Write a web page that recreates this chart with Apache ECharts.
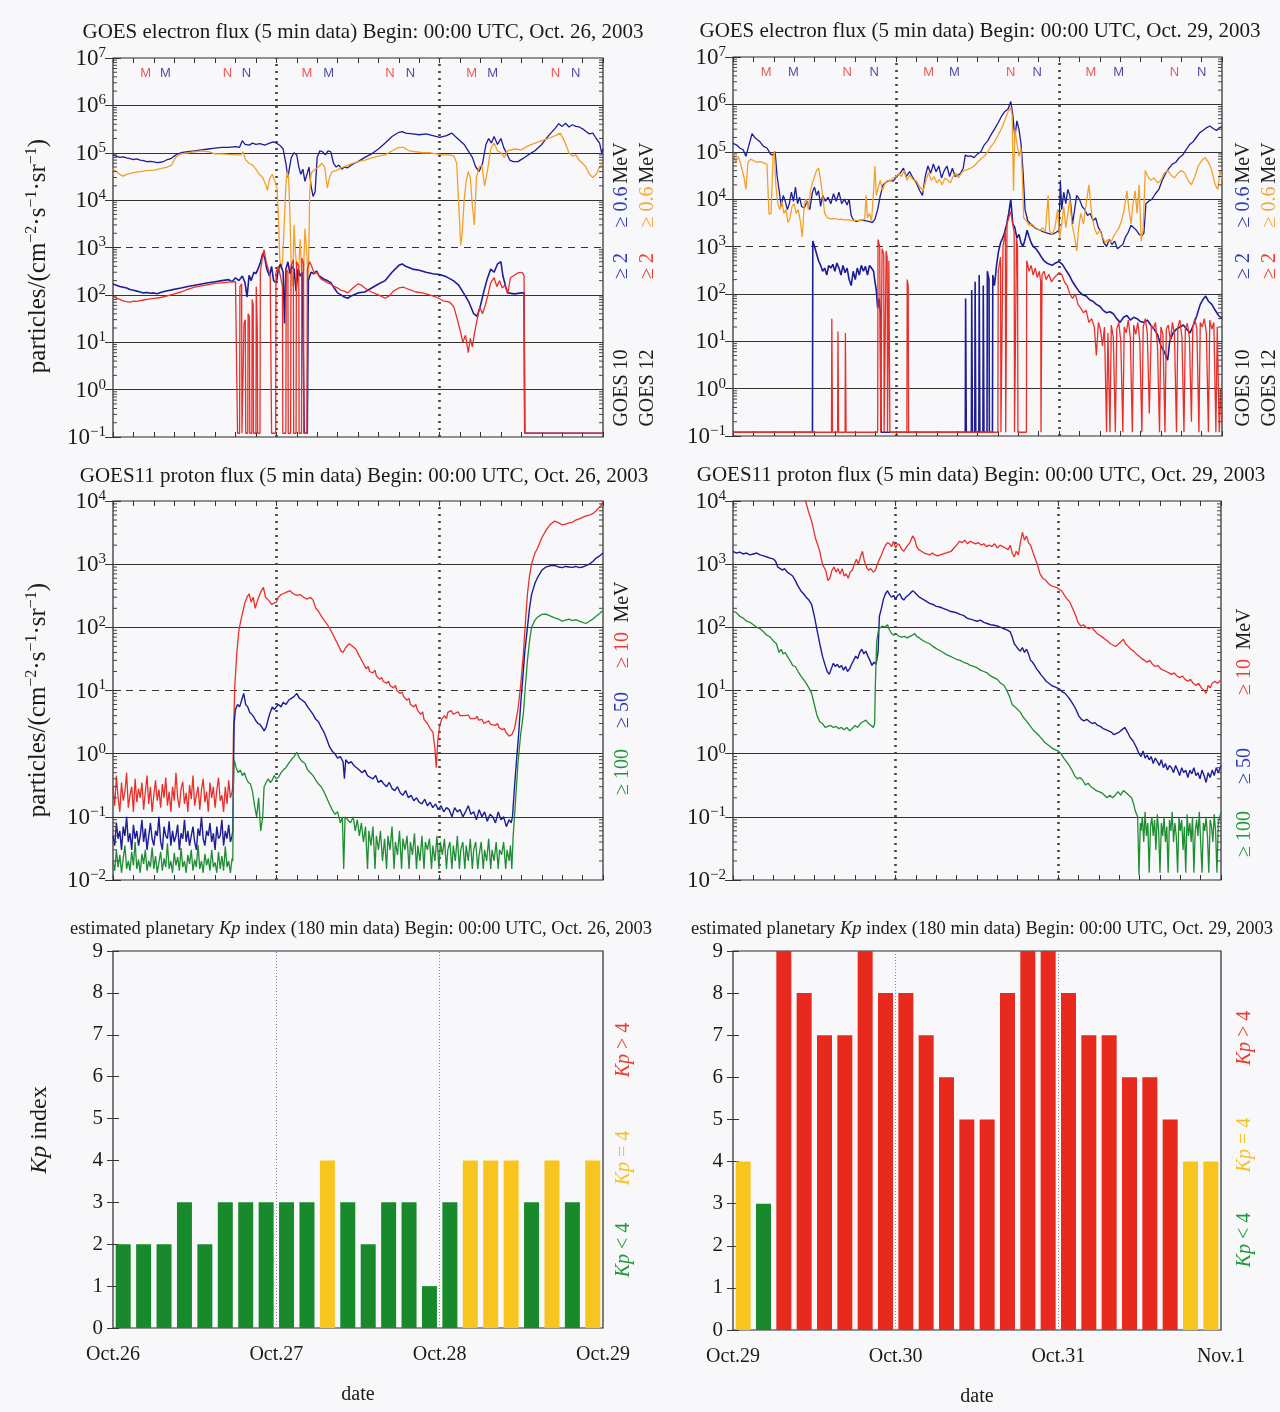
<!DOCTYPE html>
<html><head><meta charset="utf-8">
<script src="https://cdn.jsdelivr.net/npm/echarts@6/dist/echarts.min.js"></script>
<style>html,body{margin:0;padding:0;background:#f8f8fb}#c{width:1280px;height:1412px}</style>
</head><body><div id="c"></div>
<script>
// ---------------- DATA ----------------
// time in hours from 00:00 UTC of the first day of each panel
const FLOOR = 0.12;
// Electron flux, Oct 26 - 28
const e1_g10_06 = [[0,9e4],[0.5,8.5e4],[1,8e4],[1.5,8.2e4],[2,7.8e4],[2.5,7.5e4],[3,7.2e4],[3.5,7.4e4],[4,7e4],[4.5,6.8e4],[5,6.5e4],[5.5,6.6e4],[6,6.4e4],[6.5,6.2e4],[7,6.3e4],[7.5,6.6e4],[8,7.2e4],[8.5,7.5e4],[9,8.5e4],[9.5,9.5e4],[10,1.0e5],[11,1.05e5],[12,1.1e5],[13,1.15e5],[14,1.2e5],[15,1.25e5],[16,1.3e5],[17,1.3e5],[18,1.35e5],[18.6,1.3e5],[19,1.8e5],[19.4,1.5e5],[20,1.45e5],[20.5,1.6e5],[21,1.5e5],[21.6,1.55e5],[22.3,1.45e5],[23,1.6e5],[23.6,1.7e5],[24,1.6e5],[24.6,1.4e5],[25,1.2e5],[25.4,6e4],[25.7,3e4],[25.9,4.5e4],[26.2,8e4],[26.6,1.0e5],[27,9e4],[27.3,5e4],[27.6,3.5e4],[27.9,4.5e4],[28.2,2.5e4],[28.5,3.5e4],[28.8,5e4],[29.1,2e4],[29.4,1.2e4],[29.7,1.5e4],[30,8e4],[30.4,1.1e5],[30.8,1.05e5],[31.2,9e4],[31.6,1.1e5],[32,1.05e5],[32.4,6e4],[32.8,5e4],[33.2,5.5e4],[33.6,4.5e4],[34,5e4],[34.5,4.8e4],[35,5.5e4],[35.5,6e4],[36,6.5e4],[37,8e4],[38,9.5e4],[39,1.2e5],[40,1.6e5],[41,2.2e5],[42,2.7e5],[42.5,2.8e5],[43,2.6e5],[44,2.5e5],[45,2.4e5],[46,2.5e5],[47,2.3e5],[48,2.1e5],[49,2.3e5],[49.8,2.6e5],[50.3,2.2e5],[51,1.8e5],[51.6,1.5e5],[52.2,1.1e5],[52.8,8e4],[53.3,5e4],[53.8,4e4],[54.3,6e4],[54.8,1.5e5],[55.2,2.0e5],[55.6,1.6e5],[56,2.2e5],[56.5,1.5e5],[57,2.0e5],[57.4,1.3e5],[57.8,1.0e5],[58.3,7e4],[58.8,6.5e4],[59.5,6.5e4],[60.2,7.5e4],[61,9e4],[62,1.1e5],[63,1.5e5],[64,2.3e5],[65,3.3e5],[65.5,4.1e5],[66,3.6e5],[66.5,4.2e5],[67,3.5e5],[67.5,3.9e5],[68,3.6e5],[68.5,3.5e5],[69,3.2e5],[69.5,2.8e5],[70,2.5e5],[70.5,2.6e5],[71,2.0e5],[71.5,1.6e5],[71.8,1.0e5],[72,1.2e5]];
const e1_g12_06 = [[0,4.6e4],[0.5,4e4],[1,3.5e4],[1.5,3.2e4],[2,3.5e4],[3,3.8e4],[4,4e4],[5,4.2e4],[6,4.3e4],[7,4.6e4],[8,5e4],[8.6,5.5e4],[9.2,8e4],[10,9.5e4],[11,1.0e5],[12,1.05e5],[13,1.1e5],[14,1.05e5],[15,9.5e4],[16,9.5e4],[17,9.2e4],[18,9e4],[18.8,9e4],[19.1,1.05e5],[19.5,7e4],[20,6e4],[20.5,5.5e4],[21,4.5e4],[21.5,3.5e4],[22,3e4],[22.4,2.2e4],[22.7,1.6e4],[23,2.8e4],[23.4,3.5e4],[23.8,2.5e4],[24.1,1.8e4],[24.3,5e3],[24.5,600],[24.7,350],[24.9,500],[25.1,2e3],[25.4,2e4],[25.6,4e4],[25.8,3e4],[26,5e3],[26.2,300],[26.4,150],[26.6,3e3],[26.8,800],[27,400],[27.2,200],[27.5,1.5e3],[27.8,150],[28,300],[28.2,2.5e3],[28.5,700],[28.7,150],[28.9,1.5e4],[29.1,3.5e4],[29.3,4e4],[29.7,4.5e4],[30.2,5e4],[30.7,6e4],[31.1,5e4],[31.5,1.8e4],[31.8,3e4],[32.2,4e4],[32.8,4.2e4],[33.5,4.8e4],[34.2,5.2e4],[35,5.8e4],[36,6.5e4],[37,7e4],[38,7.8e4],[39,8.5e4],[40,9e4],[41,1.1e5],[42,1.3e5],[42.7,1.3e5],[43.5,1.1e5],[44.5,1.05e5],[45.5,1.0e5],[46.5,1.0e5],[47.5,9.5e4],[48.5,9e4],[49.5,9e4],[50.1,8.5e4],[50.5,6e4],[50.8,8e3],[51.1,1.1e3],[51.3,2e3],[51.6,1e4],[51.9,2.5e4],[52.2,4e4],[52.5,3e4],[52.8,8e3],[53.1,3e3],[53.4,3e4],[53.8,5e4],[54.2,5.5e4],[54.6,2e4],[55,4e4],[55.5,1.2e5],[56,1.6e5],[56.5,1.1e5],[57,1.0e5],[57.5,8e4],[58,1.1e5],[59,1.2e5],[60,1.15e5],[61,1.4e5],[62,1.6e5],[63,1.8e5],[64,2.0e5],[65,2.3e5],[65.7,2.6e5],[66.3,1.8e5],[67,1.0e5],[67.5,8.5e4],[68,9e4],[68.5,7e4],[69,6e4],[69.5,5e4],[70,3.5e4],[70.5,3e4],[71,3.5e4],[71.5,5e4],[72,6e4]];
const e1_g10_2 = [[0,170],[0.5,160],[1,150],[1.5,145],[2,140],[2.5,130],[3,125],[3.5,120],[4,115],[4.5,110],[5,112],[5.5,108],[6,110],[6.5,106],[7,112],[7.5,118],[8,122],[8.5,126],[9,132],[10,140],[11,150],[12,160],[13,170],[14,180],[15,190],[16,200],[17,210],[17.5,190],[18,230],[18.5,200],[19,250],[19.4,180],[19.7,90],[20,260],[20.3,200],[20.7,300],[21,280],[21.3,350],[21.7,500],[22,750],[22.3,600],[22.6,350],[23,250],[23.3,400],[23.6,200],[24,180],[24.3,350],[24.6,450],[25,300],[25.2,25],[25.4,350],[25.7,500],[26,280],[26.3,400],[26.6,350],[26.9,120],[27.2,350],[27.5,250],[27.8,300],[28.1,FLOOR],[28.55,FLOOR],[28.7,200],[29.1,300],[29.5,280],[29.9,320],[30.3,250],[30.7,230],[31.1,210],[31.5,200],[32,180],[32.5,140],[33,110],[33.5,100],[34,90],[34.5,85],[35,95],[36,110],[37,115],[38,140],[39,170],[40,200],[41,300],[42,420],[42.5,450],[43,400],[44,350],[45,330],[46,300],[47,280],[48,270],[49,240],[50,200],[50.8,160],[51.5,110],[52.3,70],[53,40],[53.5,35],[54,60],[54.5,120],[55,220],[55.5,350],[56,300],[56.5,450],[57,500],[57.3,250],[57.7,150],[58,110],[59,105],[60,110],[60.4,110],[60.5,FLOOR],[72,FLOOR]];
const e1_g12_2 = [[0,95],[0.5,85],[1,80],[1.5,75],[2,72],[2.5,70],[3,74],[3.5,73],[4,76],[4.5,78],[5,80],[5.5,82],[6,84],[7,88],[8,95],[9,105],[10,115],[11,130],[12,145],[13,155],[14,165],[15,175],[16,180],[17,185],[18,190],[18.25,180],[18.3,FLOOR],[18.6,FLOOR],[18.65,150],[18.9,170],[18.95,FLOOR],[19.2,FLOOR],[19.25,25],[19.45,30],[19.5,FLOOR],[19.8,FLOOR],[19.85,40],[20.05,35],[20.1,FLOOR],[20.4,FLOOR],[20.45,80],[20.6,60],[20.65,FLOOR],[21,FLOOR],[21.05,150],[21.2,20],[21.25,FLOOR],[21.6,FLOOR],[21.65,300],[22,700],[22.2,900],[22.5,500],[22.8,350],[23.1,250],[23.3,FLOOR],[23.9,FLOOR],[23.95,300],[24.3,400],[24.6,250],[24.9,150],[24.95,FLOOR],[25.4,FLOOR],[25.45,350],[25.7,300],[25.75,FLOOR],[26.1,FLOOR],[26.15,400],[26.5,550],[26.55,FLOOR],[26.9,FLOOR],[26.95,500],[27.3,400],[27.35,FLOOR],[27.7,FLOOR],[27.75,600],[28,450],[28.05,FLOOR],[28.5,FLOOR],[28.55,350],[28.9,500],[29.2,400],[29.6,280],[30,300],[30.5,220],[31,200],[31.5,180],[32,170],[32.5,150],[33,140],[33.5,125],[34,120],[34.5,110],[35,130],[35.5,150],[36,170],[36.5,160],[37,140],[37.5,125],[38,115],[39,100],[40,85],[40.6,95],[41.2,120],[42,140],[42.7,145],[43.5,130],[44.5,115],[45.5,110],[46.5,100],[47.5,90],[48.5,75],[49.5,70],[50.1,55],[50.6,30],[51,18],[51.4,10],[51.8,14],[52.2,6],[52.5,12],[52.8,8],[53.1,15],[53.5,30],[53.9,55],[54.3,40],[54.7,60],[55.1,100],[55.5,180],[56,230],[56.4,150],[56.8,200],[57.2,140],[57.6,160],[58,105],[58.4,230],[58.8,250],[59.3,280],[59.8,300],[60.2,290],[60.4,250],[60.5,FLOOR],[72,FLOOR]];
// Electron flux, Oct 29 - 31
const e2_g10_06 = [[0,1.5e5],[0.5,1.4e5],[1,1.2e5],[1.5,1.1e5],[1.9,8e4],[2.3,1.3e5],[2.8,2.4e5],[3.2,2e5],[3.6,1.8e5],[4,1.6e5],[4.5,1.3e5],[5,1.2e5],[5.5,9e4],[5.8,8.5e4],[6.2,1.0e5],[6.5,3e4],[6.8,1.5e4],[7.1,7e3],[7.4,1.2e4],[7.7,9e3],[8,6e3],[8.3,8e3],[8.6,1.4e4],[8.9,9e3],[9.2,1.8e4],[9.5,8e3],[9.8,1.1e4],[10.1,7e3],[10.5,6.5e3],[10.9,9e3],[11.3,6e3],[11.7,1.4e4],[12,1.8e4],[12.3,1.2e4],[12.6,1.5e4],[12.9,7e3],[13.2,1.2e4],[13.6,9e3],[14,1.1e4],[14.4,8e3],[14.8,1.3e4],[15.2,9e3],[15.6,1.4e4],[16,8e3],[16.4,1.0e4],[16.8,7.5e3],[17.1,1.0e4],[17.4,4.5e3],[17.8,3.5e3],[18.2,3.4e3],[18.8,3.6e3],[19.4,3.5e3],[20,3.4e3],[20.5,3.2e3],[20.9,3.8e3],[21.3,6e3],[21.7,1.2e4],[22.1,2e4],[22.6,2.3e4],[23.1,2.5e4],[23.6,2.4e4],[24.1,3e4],[24.6,3.5e4],[25.1,4.5e4],[25.5,3e4],[26,3.8e4],[26.5,2.8e4],[27,2.2e4],[27.5,1.5e4],[27.9,1.2e4],[28.3,3e4],[28.7,5e4],[29.1,3.5e4],[29.5,5.5e4],[29.9,3.8e4],[30.3,5e4],[30.7,2.8e4],[31.1,4e4],[31.5,5e4],[31.9,3e4],[32.3,4.5e4],[32.7,3e4],[33.1,3.2e4],[33.5,3.5e4],[33.9,4.5e4],[34.2,8.5e4],[34.6,8e4],[35,8.2e4],[35.5,7.5e4],[36,9e4],[36.5,1.0e5],[37,1.4e5],[37.5,1.7e5],[38,2.3e5],[38.5,3e5],[39,4e5],[39.5,5.5e5],[40,7e5],[40.5,8e5],[40.9,1.15e6],[41.2,6e5],[41.5,2e5],[41.8,4.5e5],[42.1,3e5],[42.4,1.5e5],[42.7,4e4],[43,6e3],[43.4,3.5e3],[44,2.8e3],[44.6,2.4e3],[45.2,2.2e3],[45.8,2.0e3],[46.4,1.9e3],[47,1.8e3],[47.6,2.0e3],[48,2.2e3],[48.2,2.5e4],[48.4,6e3],[48.7,1.4e4],[49,8e3],[49.3,1.6e4],[49.6,1.2e4],[50,3e3],[50.3,6e3],[50.6,1.2e4],[51,1.0e4],[51.4,7e3],[51.8,6e3],[52.2,4.5e3],[52.6,5e3],[53,3.5e3],[53.4,4e3],[53.8,2.5e3],[54.2,2e3],[54.6,1.2e3],[55,1.0e3],[55.4,1.4e3],[55.8,1.1e3],[56.2,1.3e3],[56.6,9e2],[57,1.0e3],[57.4,1.1e3],[57.8,1.6e3],[58.2,2e3],[58.6,2.8e3],[59,2.5e3],[59.4,2.2e3],[59.8,1.8e3],[60.2,1.7e3],[60.5,1.9e3],[60.8,8e3],[61.2,9e3],[61.7,1.0e4],[62.2,1.3e4],[62.7,1.6e4],[63.2,2.5e4],[63.7,3.5e4],[64.2,4.5e4],[64.7,5.5e4],[65.2,6e4],[65.7,7.5e4],[66.2,8.5e4],[66.7,1.1e5],[67.2,1.4e5],[67.7,1.6e5],[68.2,2.0e5],[68.7,2.5e5],[69.2,2.8e5],[69.7,3.2e5],[70.2,3.5e5],[70.7,3.1e5],[71.2,2.8e5],[71.6,3.2e5],[72,3.4e5]];
const e2_g12_06 = [[0,9.5e4],[0.4,6e4],[0.8,8e4],[1.2,5e4],[1.6,3e4],[1.9,1.6e4],[2.2,6e4],[2.6,7e4],[3,6.5e4],[3.5,6e4],[4,6.2e4],[4.5,5.8e4],[5,5.5e4],[5.3,4.8e3],[5.6,5e3],[5.9,8e4],[6.1,1e5],[6.3,2e4],[6.6,8e3],[6.9,6e3],[7.2,9e3],[7.5,5e3],[7.8,6e3],[8.1,3.2e3],[8.4,4e3],[8.7,7e3],[9,8e3],[9.3,5e3],[9.6,6e3],[9.9,3.5e3],[10.2,1.6e3],[10.5,8e3],[10.8,1.0e4],[11.1,6e3],[11.4,1.5e4],[11.7,2.2e4],[12,3e4],[12.3,4e4],[12.6,4.5e4],[12.9,2.5e4],[13.2,1.2e4],[13.5,5e3],[13.9,4e3],[14.5,3.8e3],[15,3.9e3],[15.5,3.7e3],[16,3.8e3],[16.5,3.6e3],[17,3.7e3],[17.5,3.5e3],[18,3.6e3],[18.5,3.5e3],[19,3.6e3],[19.4,3.8e3],[19.6,1.2e4],[19.8,4e3],[20.1,5e3],[20.4,3.5e3],[20.7,1.5e4],[20.9,5e4],[21.1,1.2e4],[21.4,1.8e4],[21.7,2.5e4],[22,1.5e4],[22.4,2.2e4],[22.8,2.5e4],[23.2,2.4e4],[23.6,2.8e4],[24,3e4],[24.4,3.5e4],[24.8,3e4],[25.2,4e4],[25.6,2.5e4],[26,3.2e4],[26.5,2.6e4],[27,2.4e4],[27.5,1.8e4],[28,1.5e4],[28.4,2.5e4],[28.8,3.6e4],[29.2,2.5e4],[29.6,3e4],[30,2.2e4],[30.4,2.6e4],[30.8,2.0e4],[31.2,2.8e4],[31.6,2.5e4],[32,2.2e4],[32.4,3e4],[32.8,3.5e4],[33.2,2.8e4],[33.6,3.5e4],[34,4e4],[34.5,4.2e4],[35,4.5e4],[35.5,5e4],[36,6e4],[36.5,7e4],[37,8e4],[37.5,1.0e5],[38,1.3e5],[38.5,1.6e5],[39,2.2e5],[39.5,3e5],[40,4.5e5],[40.5,7e5],[40.9,8.5e5],[41.1,6e5],[41.3,1.5e4],[41.5,3e5],[41.8,1.5e5],[42.1,8e4],[42.4,1.2e5],[42.6,3e4],[42.8,4e3],[43.2,3.5e3],[43.6,2.8e3],[44,3e3],[44.4,2.6e3],[44.8,2.4e3],[45.2,2.2e3],[45.6,2.5e3],[46,2.0e3],[46.4,1.2e4],[46.6,2.2e3],[47,1.8e3],[47.4,2.5e3],[47.8,6e3],[48.1,1.5e3],[48.4,3e3],[48.7,7e3],[49,2.5e3],[49.3,5e3],[49.6,1.0e4],[49.9,3e3],[50.3,1.6e3],[50.6,8e2],[50.9,2.5e3],[51.2,5e3],[51.6,3e3],[52,8e3],[52.4,2e4],[52.8,5e3],[53.2,2.5e3],[53.6,1.8e3],[54,2.2e3],[54.4,1.6e3],[54.8,1.2e3],[55.2,1.4e3],[55.6,1.2e3],[56,1.6e3],[56.4,2.0e3],[56.8,2.4e3],[57.2,3.5e3],[57.6,6e3],[58,1.5e4],[58.3,6e3],[58.6,3e3],[58.9,8e3],[59.2,1.5e4],[59.5,5e3],[59.8,2e4],[60.1,1.3e3],[60.4,2.5e3],[60.7,4e4],[61.1,3e4],[61.5,2.5e4],[62,2.8e4],[62.5,2.2e4],[63,2.5e4],[63.5,3.5e4],[64,4e4],[64.5,3.2e4],[65,2.8e4],[65.5,3.5e4],[66,4e4],[66.5,3.6e4],[67,2.5e4],[67.5,2.0e4],[68,3e4],[68.5,5e4],[69,6.5e4],[69.5,7.5e4],[70,6e4],[70.5,4e4],[71,2e4],[71.4,1.6e4],[71.7,4e4],[72,2.8e4]];
const e2_g10_2 = [[0,FLOOR],[11.7,FLOOR],[11.75,1300],[12,1000],[12.3,700],[12.6,500],[12.9,400],[13.2,300],[13.5,350],[13.8,250],[14.1,400],[14.4,350],[14.7,420],[15,300],[15.3,450],[15.6,350],[15.9,250],[16.2,400],[16.5,280],[16.8,350],[17.1,200],[17.4,150],[17.7,300],[18,200],[18.3,350],[18.6,250],[18.9,400],[19.2,300],[19.5,380],[19.8,250],[20.1,400],[20.4,350],[20.7,300],[20.9,180],[21.1,120],[21.3,50],[21.5,80],[21.7,40],[21.8,FLOOR],[34.2,FLOOR],[34.25,80],[34.35,FLOOR],[35.1,FLOOR],[35.15,120],[35.25,FLOOR],[35.6,FLOOR],[35.65,180],[35.75,FLOOR],[36.2,FLOOR],[36.25,250],[36.35,FLOOR],[36.8,FLOOR],[36.85,150],[36.95,FLOOR],[37.4,FLOOR],[37.45,300],[37.7,200],[37.75,FLOOR],[38.2,FLOOR],[38.25,250],[38.5,150],[38.8,400],[39.1,800],[39.4,1200],[39.7,1500],[40,2000],[40.3,3000],[40.6,5000],[40.9,1.0e4],[41.2,3000],[41.5,2500],[41.8,1500],[42.1,1800],[42.4,1200],[42.7,1000],[43,1400],[43.3,2200],[43.6,1600],[43.9,1200],[44.2,1000],[44.6,900],[45,750],[45.4,600],[45.8,500],[46.2,450],[46.6,420],[47,400],[47.5,450],[48,480],[48.5,420],[49,320],[49.5,250],[50,180],[50.5,140],[51,110],[51.5,95],[52,90],[52.5,75],[53,70],[53.5,60],[54,55],[54.5,45],[55,40],[55.5,42],[56,38],[56.5,30],[57,25],[57.5,32],[58,35],[58.5,28],[59,32],[59.5,30],[60,26],[60.5,25],[61,28],[61.5,22],[62,18],[62.5,14],[63,8],[63.5,6],[64,4],[64.3,10],[64.8,15],[65.3,18],[65.8,20],[66.3,22],[66.8,18],[67.3,15],[67.8,22],[68.3,35],[68.8,60],[69.3,80],[69.6,90],[70,70],[70.5,60],[71,45],[71.5,35],[72,30]];
const e2_g12_2 = [[0,FLOOR],[14.5,FLOOR],[14.55,30],[14.65,FLOOR],[15.4,FLOOR],[15.45,16],[15.55,FLOOR],[16.5,FLOOR],[16.55,15],[16.65,FLOOR],[21.3,FLOOR],[21.35,1400],[21.6,1000],[21.75,FLOOR],[21.9,FLOOR],[21.95,900],[22.2,700],[22.25,FLOOR],[22.5,FLOOR],[22.55,800],[22.7,600],[22.75,FLOOR],[22.9,FLOOR],[22.95,500],[23.1,FLOOR],[25.6,FLOOR],[25.65,200],[25.8,150],[25.85,FLOOR],[39,FLOOR],[39.05,300],[39.4,600],[39.45,FLOOR],[39.7,FLOOR],[39.75,1000],[40.1,2000],[40.15,FLOOR],[40.3,FLOOR],[40.35,3000],[40.7,4500],[40.9,5500],[41.1,3500],[41.4,2000],[41.45,FLOOR],[41.7,FLOOR],[41.75,1500],[41.9,1000],[41.95,FLOOR],[43.2,FLOOR],[43.25,500],[43.6,300],[43.9,400],[44.2,250],[44.5,350],[44.8,220],[45.1,300],[45.3,180],[45.35,FLOOR],[45.45,FLOOR],[45.5,250],[45.8,300],[46.1,200],[46.5,260],[46.9,180],[47.3,220],[47.7,250],[48,280],[48.4,260],[48.8,180],[49.2,150],[49.6,100],[50,80],[50.4,100],[50.8,60],[51.2,50],[51.6,40],[52,45],[52.4,25],[52.8,30],[53.2,20],[53.5,5],[53.8,25],[54.1,18],[54.4,8],[54.7,20],[55,FLOOR],[55.2,15],[55.5,FLOOR],[55.7,22],[56,12],[56.3,FLOOR],[56.5,18],[56.8,25],[57.1,10],[57.4,FLOOR],[57.6,20],[57.9,15],[58.2,28],[58.5,12],[58.8,FLOOR],[59,22],[59.3,14],[59.6,25],[59.9,10],[60.2,FLOOR],[60.4,20],[60.7,30],[61,15],[61.3,0.3],[61.6,22],[61.9,18],[62.2,25],[62.5,8],[62.8,FLOOR],[63,20],[63.3,14],[63.6,FLOOR],[63.8,18],[64.1,22],[64.4,10],[64.7,25],[65,14],[65.3,FLOOR],[65.5,20],[65.8,28],[66.1,12],[66.4,FLOOR],[66.6,18],[66.9,24],[67.2,12],[67.5,0.2],[67.7,20],[68,30],[68.3,18],[68.6,FLOOR],[68.8,25],[69.1,20],[69.4,30],[69.7,15],[70,FLOOR],[70.2,28],[70.5,18],[70.8,25],[71.1,FLOOR],[71.3,20],[71.6,FLOOR],[71.8,1],[72,0.2]];
// M / N markers (hours)
const e1_markM_red = [4.8,28.5,52.7], e1_markM_blue = [7.7,31.7,55.8];
const e1_markN_red = [16.8,40.7,65.0], e1_markN_blue = [19.6,43.7,68.0];
const e2_markM_red = [4.9,28.8,52.7], e2_markM_blue = [8.9,32.6,56.8];
const e2_markN_red = [16.8,40.9,65.0], e2_markN_blue = [20.8,44.8,69.0];

// Proton flux, Oct 26 - 28 : quiet interval sampled every 0.25 h from 0 h
const p1_10_quiet = [0.3,0.15,0.45,0.2,0.12,0.35,0.18,0.25,0.5,0.14,0.22,0.3,0.12,0.4,0.17,0.28,0.2,0.35,0.13,0.25,0.45,0.16,0.3,0.12,0.22,0.38,0.18,0.27,0.14,0.33,0.2,0.42,0.15,0.25,0.12,0.3,0.18,0.5,0.2,0.14,0.28,0.36,0.16,0.24,0.12,0.32,0.19,0.45,0.15,0.22,0.3,0.13,0.27,0.4,0.17,0.25,0.12,0.35,0.2,0.3,0.14,0.26,0.42,0.18,0.22,0.12,0.3,0.16,0.38,0.2,0.25];
const p1_50_quiet = [0.05,0.035,0.08,0.045,0.06,0.03,0.07,0.05,0.1,0.04,0.055,0.03,0.075,0.045,0.06,0.035,0.05,0.09,0.04,0.065,0.03,0.05,0.08,0.045,0.035,0.06,0.05,0.1,0.04,0.03,0.07,0.05,0.045,0.085,0.035,0.06,0.04,0.05,0.075,0.03,0.055,0.045,0.09,0.04,0.06,0.035,0.05,0.07,0.04,0.03,0.065,0.05,0.1,0.045,0.035,0.06,0.05,0.08,0.04,0.055,0.03,0.07,0.045,0.05,0.09,0.035,0.06,0.045,0.075,0.04,0.05];
const p1_100_quiet = [0.02,0.014,0.03,0.016,0.025,0.013,0.022,0.035,0.015,0.02,0.014,0.028,0.017,0.04,0.015,0.021,0.013,0.026,0.018,0.03,0.014,0.02,0.016,0.033,0.015,0.024,0.013,0.019,0.028,0.014,0.022,0.016,0.038,0.015,0.02,0.013,0.027,0.017,0.023,0.014,0.032,0.016,0.02,0.013,0.025,0.018,0.03,0.014,0.021,0.016,0.036,0.015,0.02,0.013,0.026,0.017,0.022,0.014,0.03,0.016,0.019,0.013,0.028,0.015,0.024,0.014,0.034,0.016,0.02,0.013,0.022];
const p1_10_event = [[17.6,0.3],[17.7,2],[17.9,12],[18.2,40],[18.5,90],[18.8,130],[19.1,180],[19.4,250],[19.7,300],[20,340],[20.3,250],[20.6,300],[20.9,200],[21.2,260],[21.5,320],[21.8,380],[22.1,430],[22.4,300],[22.7,280],[23,260],[23.3,230],[23.6,240],[24,250],[24.3,300],[24.7,330],[25,340],[25.5,360],[26,380],[26.5,340],[27,320],[27.5,330],[28,300],[28.5,280],[29,300],[29.4,270],[29.8,200],[30.2,180],[30.6,150],[31,130],[31.5,110],[32,90],[32.5,70],[33,55],[33.5,42],[33.8,40],[34.2,48],[34.7,55],[35.2,50],[35.7,45],[36.2,35],[36.7,28],[37.2,22],[37.5,24],[37.7,20],[38.2,19],[38.5,21],[38.7,17],[39.2,15],[39.5,16],[39.7,14],[40.2,13],[40.5,14],[40.7,12],[41.2,11],[41.5,12],[41.7,10],[42.2,9],[42.5,9.5],[42.7,8],[43.2,7],[43.5,7.5],[43.7,6],[44.2,5.5],[44.5,6],[44.7,5],[45.2,4.2],[45.5,4.6],[45.7,3.5],[46.2,3],[46.6,2.5],[47,2.2],[47.3,1.2],[47.5,0.6],[47.7,1.5],[48,2.8],[48.3,3.5],[48.7,4],[49,3.6],[49.2,4.5],[49.7,4.8],[50,4.2],[50.2,4.5],[50.7,4.6],[51,4.0],[51.2,4.3],[51.7,4.0],[52.2,4.1],[52.5,3.6],[52.7,3.8],[53.2,3.6],[53.5,3.9],[53.7,3.4],[54.2,3.5],[54.5,3.0],[54.7,3.2],[55.2,3.3],[55.5,2.9],[55.7,3.0],[56.2,2.8],[56.5,3.0],[56.7,2.6],[57.2,2.4],[57.5,2.5],[57.7,2.2],[58.2,1.9],[58.6,2.0],[59,2.5],[59.5,5],[59.9,12],[60.3,38],[60.6,120],[60.9,340],[61.2,650],[61.5,1000],[62,1500],[62.4,1800],[63,2600],[63.6,3400],[64.2,4200],[64.9,4800],[65.5,4500],[66,4200],[66.5,4300],[67,4500],[67.5,4600],[68,5000],[68.5,5200],[69,5500],[69.5,5800],[70,6000],[70.5,6300],[71,7000],[71.5,8000],[72,9500]];
const p1_50_event = [[17.6,0.06],[17.7,0.5],[17.8,3],[18,5],[18.3,6],[18.6,5.5],[18.9,7],[19.2,9],[19.5,6],[19.8,5.5],[20.1,4.5],[20.4,4.2],[20.7,3.8],[21,3.3],[21.3,3],[21.6,2.9],[21.9,2.6],[22.2,2.3],[22.5,2.6],[22.8,3.5],[23.1,4.5],[23.4,5.5],[23.7,5],[24,5.5],[24.3,6],[24.7,5.5],[25,6.5],[25.4,6],[25.8,7],[26.2,7.5],[26.6,8],[27,9],[27.4,7.5],[27.8,7],[28.2,6.5],[28.6,5.5],[29,4.8],[29.4,4.2],[29.8,3.5],[30.2,3.2],[30.6,2.6],[31,2.2],[31.4,1.7],[31.8,1.3],[32.2,1.1],[32.6,1.0],[33,0.85],[33.4,0.9],[33.8,0.75],[34,0.4],[34.2,0.8],[34.6,0.7],[35,0.75],[35.4,0.65],[35.8,0.6],[36.2,0.55],[36.6,0.5],[37,0.55],[37.4,0.45],[37.8,0.42],[38.2,0.4],[38.6,0.45],[39,0.35],[39.4,0.38],[39.8,0.33],[40.2,0.3],[40.6,0.35],[41,0.28],[41.4,0.26],[41.8,0.3],[42.2,0.24],[42.6,0.22],[43,0.26],[43.4,0.2],[43.8,0.22],[44.2,0.18],[44.6,0.2],[45,0.17],[45.4,0.16],[45.8,0.19],[46.2,0.15],[46.6,0.17],[47,0.14],[47.4,0.16],[47.8,0.13],[48.2,0.15],[48.6,0.12],[49,0.14],[49.4,0.13],[49.8,0.1],[50.2,0.14],[50.6,0.12],[51,0.13],[51.4,0.1],[51.8,0.12],[52.2,0.15],[52.6,0.11],[53,0.12],[53.4,0.09],[53.8,0.13],[54.2,0.1],[54.6,0.12],[55,0.085],[55.4,0.11],[55.8,0.1],[56.2,0.08],[56.6,0.12],[57,0.09],[57.4,0.1],[57.8,0.07],[58.2,0.09],[58.5,0.08],[58.7,0.1],[59,0.3],[59.3,0.8],[59.6,2],[59.9,6],[60.2,15],[60.5,40],[60.9,100],[61.2,200],[61.5,330],[62,500],[62.4,620],[63,800],[63.6,900],[64.3,950],[65,950],[65.5,900],[66,880],[66.5,920],[67,900],[67.5,890],[68,920],[68.5,880],[69,900],[69.5,950],[70,1000],[70.5,1100],[71,1250],[71.5,1350],[72,1500]];
const p1_100_event = [[17.6,0.02],[17.7,0.3],[17.8,0.8],[18.1,0.6],[18.4,0.5],[18.7,0.55],[19,0.45],[19.3,0.5],[19.6,0.4],[19.9,0.35],[20.2,0.33],[20.5,0.25],[20.8,0.15],[21.1,0.1],[21.4,0.2],[21.7,0.06],[22,0.1],[22.2,0.3],[22.5,0.35],[22.8,0.4],[23.1,0.35],[23.4,0.38],[23.7,0.45],[24,0.4],[24.3,0.42],[24.7,0.5],[25,0.55],[25.4,0.6],[25.8,0.7],[26.2,0.8],[26.6,0.9],[27,1.05],[27.4,0.85],[27.8,0.75],[28.2,0.7],[28.6,0.55],[29,0.5],[29.4,0.45],[29.8,0.38],[30.2,0.33],[30.6,0.3],[31,0.25],[31.4,0.2],[31.8,0.16],[32.2,0.13],[32.6,0.11],[33,0.12],[33.4,0.08],[33.7,0.1],[33.9,0.015],[34.1,0.1],[34.5,0.09],[34.9,0.08],[35.3,0.1],[35.6,0.06],[35.9,0.09],[36.2,0.05],[36.5,0.08],[36.8,0.04],[37.1,0.07],[37.4,0.015],[37.6,0.06],[37.9,0.035],[38.2,0.07],[38.5,0.015],[38.7,0.05],[39,0.03],[39.3,0.06],[39.6,0.02],[39.9,0.045],[40.2,0.015],[40.4,0.05],[40.7,0.03],[41,0.07],[41.3,0.015],[41.5,0.04],[41.8,0.025],[42.1,0.06],[42.4,0.015],[42.6,0.045],[42.9,0.03],[43.2,0.05],[43.5,0.015],[43.7,0.04],[44,0.025],[44.3,0.055],[44.6,0.015],[44.8,0.035],[45.1,0.02],[45.4,0.05],[45.7,0.015],[45.9,0.04],[46.2,0.03],[46.5,0.045],[46.8,0.015],[47,0.035],[47.3,0.02],[47.6,0.05],[47.9,0.015],[48.1,0.04],[48.4,0.025],[48.7,0.045],[49,0.015],[49.2,0.03],[49.5,0.04],[49.8,0.015],[50,0.035],[50.3,0.02],[50.6,0.05],[50.9,0.015],[51.1,0.03],[51.4,0.04],[51.7,0.015],[51.9,0.035],[52.2,0.02],[52.5,0.045],[52.8,0.015],[53,0.03],[53.3,0.04],[53.6,0.015],[53.8,0.025],[54.1,0.04],[54.4,0.015],[54.6,0.03],[54.9,0.02],[55.2,0.045],[55.5,0.015],[55.7,0.03],[56,0.02],[56.3,0.04],[56.6,0.015],[56.8,0.03],[57.1,0.025],[57.4,0.04],[57.7,0.015],[57.9,0.03],[58.2,0.02],[58.4,0.035],[58.6,0.015],[58.8,0.05],[59.1,0.15],[59.5,0.7],[59.9,2],[60.3,4.3],[60.6,12],[60.9,30],[61.2,60],[61.5,100],[62,130],[62.4,145],[63,160],[63.6,162],[64.3,150],[65,140],[65.5,135],[66,125],[66.5,130],[67,135],[67.5,128],[68,132],[68.5,125],[69,120],[69.5,115],[70,125],[70.5,135],[71,150],[71.5,165],[72,185]];
// Proton flux, Oct 29 - 31
const p2_10 = [[0,5e4],[10,1.4e4],[10.7,1e4],[11.1,7e3],[11.6,4.8e3],[12.2,2.5e3],[12.8,1.6e3],[13.2,1.0e3],[13.7,780],[14,550],[14.3,600],[14.6,800],[14.9,900],[15.2,750],[15.5,850],[15.8,700],[16.1,850],[16.4,650],[16.7,700],[17,600],[17.3,750],[17.6,800],[17.9,1000],[18.2,1200],[18.5,1000],[18.8,1300],[19.1,1600],[19.4,1100],[19.7,900],[20,800],[20.3,850],[20.7,750],[21,800],[21.3,1000],[21.6,1200],[21.9,1400],[22.2,1700],[22.5,2000],[22.8,2200],[23.1,2100],[23.4,1900],[23.7,2300],[24,1800],[24.3,2100],[24.6,2000],[24.9,1700],[25.2,1600],[25.5,1800],[25.8,2000],[26.1,2200],[26.5,2800],[26.8,2500],[27.1,1900],[27.4,1700],[27.8,1600],[28.2,1500],[28.6,1450],[29,1400],[29.4,1500],[29.8,1400],[30.2,1350],[30.6,1400],[31,1450],[31.4,1500],[31.8,1550],[32.2,1600],[32.6,1800],[33,2000],[33.4,2300],[33.8,2200],[34.2,2400],[34.6,2100],[35,2300],[35.4,2200],[35.8,2100],[36.2,2200],[36.6,2000],[37,2100],[37.4,1900],[37.8,2000],[38.2,1900],[38.6,2100],[39,1800],[39.4,2000],[39.8,1900],[40.2,1800],[40.6,1700],[40.9,2000],[41.2,1500],[41.5,1300],[41.8,1600],[42.1,1400],[42.4,2200],[42.7,3200],[43,2400],[43.3,2800],[43.6,2200],[43.9,2000],[44.2,1600],[44.5,1300],[44.9,1000],[45.3,700],[45.7,600],[46.1,560],[46.5,500],[46.9,460],[47.3,440],[47.7,430],[48.1,400],[48.5,380],[48.9,320],[49.3,280],[49.7,250],[50.1,200],[50.5,160],[50.9,120],[51.3,105],[51.7,110],[52.1,100],[52.5,95],[52.9,100],[53.3,90],[53.7,80],[54.1,75],[54.5,70],[54.9,65],[55.3,60],[55.7,55],[56.1,52],[56.5,50],[56.9,55],[57.3,60],[57.6,65],[57.9,55],[58.3,50],[58.7,45],[59.1,42],[59.5,38],[59.9,35],[60.3,32],[60.7,30],[61.1,28],[61.5,30],[61.9,26],[62.3,24],[62.7,25],[63.1,22],[63.5,21],[63.9,20],[64.3,19],[64.7,18],[65.1,19],[65.5,17],[65.9,16],[66.3,17],[66.7,15],[67.1,14],[67.5,15],[67.9,13],[68.3,12],[68.7,13],[69.1,11],[69.5,10],[69.8,9],[70.1,12],[70.4,11],[70.7,13],[71.1,14],[71.5,13],[72,15]];
const p2_50 = [[0,1600],[0.5,1500],[1,1550],[1.5,1450],[2,1500],[2.5,1400],[3,1450],[3.5,1500],[4,1400],[4.5,1350],[5,1300],[5.5,1250],[6,1200],[6.3,1100],[6.6,900],[7,850],[7.3,800],[7.6,850],[8,750],[8.4,700],[8.8,650],[9.2,550],[9.6,450],[10,380],[10.4,340],[10.8,300],[11.2,270],[11.6,230],[12,150],[12.4,90],[12.8,55],[13.2,35],[13.6,25],[13.9,20],[14.2,18],[14.5,22],[14.8,27],[15.1,24],[15.4,26],[15.7,23],[16,25],[16.3,21],[16.6,24],[16.9,20],[17.2,22],[17.5,26],[17.8,30],[18.1,35],[18.4,32],[18.7,40],[19,45],[19.3,38],[19.6,42],[19.9,35],[20.2,30],[20.5,25],[20.8,28],[21.1,26],[21.4,40],[21.6,150],[21.9,200],[22.2,280],[22.5,340],[22.8,380],[23.1,330],[23.4,300],[23.7,320],[24,280],[24.3,320],[24.6,340],[24.9,290],[25.2,270],[25.5,300],[25.8,320],[26.1,340],[26.5,380],[26.8,360],[27.1,330],[27.5,300],[28,280],[28.5,260],[29,240],[29.5,230],[30,215],[30.5,210],[31,200],[31.5,190],[32,180],[32.5,175],[33,170],[33.5,160],[34,155],[34.5,140],[35,135],[35.5,130],[36,125],[36.5,130],[37,120],[37.5,115],[38,110],[38.5,108],[39,105],[39.5,100],[40,95],[40.5,90],[40.9,85],[41.2,70],[41.5,55],[41.8,50],[42.1,45],[42.4,42],[42.7,48],[43,40],[43.3,45],[43.6,38],[43.9,30],[44.2,28],[44.5,25],[44.8,22],[45.1,20],[45.4,18],[45.8,16],[46.2,14],[46.6,13],[47,12],[47.4,11.5],[47.8,11],[48.2,10.5],[48.6,9.5],[49,9],[49.4,8],[49.8,7],[50.2,6],[50.6,5],[51,4],[51.4,3.5],[51.8,3.3],[52.2,3.5],[52.6,3.2],[53,3.0],[53.4,3.1],[53.8,2.8],[54.2,2.7],[54.6,2.5],[55,2.4],[55.4,2.3],[55.8,2.2],[56.2,2.0],[56.6,2.1],[57,2.2],[57.4,2.4],[57.8,2.6],[58.2,2.2],[58.6,1.8],[59,1.6],[59.3,1.4],[59.6,1.2],[59.9,1.0],[60.2,0.9],[60.5,1.1],[60.8,0.85],[61.1,0.95],[61.4,0.8],[61.7,0.9],[62,0.7],[62.3,0.85],[62.6,0.75],[62.9,0.65],[63.2,0.8],[63.5,0.6],[63.8,0.7],[64.1,0.55],[64.4,0.65],[64.7,0.6],[65,0.5],[65.3,0.65],[65.6,0.55],[65.9,0.45],[66.2,0.6],[66.5,0.5],[66.8,0.55],[67.1,0.42],[67.4,0.55],[67.7,0.48],[68,0.6],[68.3,0.45],[68.6,0.5],[68.9,0.4],[69.2,0.55],[69.5,0.45],[69.8,0.35],[70.1,0.5],[70.4,0.42],[70.7,0.55],[71,0.45],[71.3,0.6],[71.6,0.5],[72,0.65]];
const p2_100_main = [[0,180],[0.5,170],[1,150],[1.5,140],[2,125],[2.5,120],[3,110],[3.5,100],[4,95],[4.5,85],[5,75],[5.5,70],[6,60],[6.4,55],[6.8,40],[7.1,45],[7.4,38],[7.7,40],[8,35],[8.4,30],[8.8,25],[9.2,24],[9.6,20],[10,17],[10.4,15],[10.8,13],[11.2,11],[11.6,9],[12,6],[12.4,4],[12.8,3.2],[13.2,3.0],[13.6,2.6],[14,2.7],[14.4,2.8],[14.8,2.6],[15.2,2.7],[15.6,2.5],[16,2.6],[16.4,2.4],[16.8,2.6],[17.2,2.3],[17.6,2.5],[18,2.8],[18.4,2.6],[18.8,3.0],[19.2,3.2],[19.6,3.4],[20,3.0],[20.4,2.8],[20.7,2.6],[20.9,3],[21,12],[21.2,60],[21.5,95],[21.8,100],[22.1,105],[22.4,100],[22.8,110],[23.1,90],[23.4,80],[23.7,75],[24.1,78],[24.5,72],[24.9,70],[25.3,72],[25.7,68],[26.1,72],[26.5,75],[26.8,80],[27.1,72],[27.5,68],[28,62],[28.5,58],[29,55],[29.5,50],[30,46],[30.5,43],[31,40],[31.5,37],[32,35],[32.5,33],[33,31],[33.5,30],[34,28],[34.5,27],[35,25],[35.5,24],[36,23],[36.5,21],[37,20],[37.5,19],[38,17],[38.5,16],[39,15],[39.5,13],[40,12],[40.4,10],[40.8,8],[41.2,6],[41.6,5.5],[42,5],[42.4,4.5],[42.8,3.8],[43.2,3.4],[43.6,3.0],[44,2.6],[44.4,2.3],[44.8,2.1],[45.2,1.9],[45.6,1.7],[46,1.5],[46.4,1.4],[46.8,1.3],[47.2,1.2],[47.6,1.15],[48,1.1],[48.4,1.0],[48.8,0.85],[49.2,0.75],[49.6,0.65],[50,0.55],[50.4,0.45],[50.8,0.4],[51.2,0.42],[51.6,0.38],[52,0.32],[52.4,0.34],[52.8,0.3],[53.2,0.28],[53.6,0.26],[54,0.25],[54.4,0.24],[54.8,0.22],[55.2,0.2],[55.6,0.22],[56,0.2],[56.4,0.22],[56.8,0.25],[57.2,0.22],[57.6,0.26],[58,0.24],[58.4,0.22],[58.8,0.2],[59.1,0.16],[59.4,0.12],[59.7,0.1],[59.9,0.012],[60.1,0.08]];
// noisy tail sampled every 0.2 h from 60.2 h
const p2_100_tail = [0.06,0.1,0.04,0.12,0.05,0.08,0.013,0.07,0.1,0.05,0.09,0.03,0.11,0.06,0.013,0.08,0.05,0.1,0.04,0.07,0.013,0.09,0.06,0.12,0.04,0.08,0.05,0.013,0.1,0.06,0.09,0.03,0.07,0.013,0.11,0.05,0.08,0.04,0.1,0.013,0.06,0.09,0.05,0.12,0.04,0.013,0.08,0.06,0.1,0.05,0.013,0.09,0.07,0.04,0.11,0.06,0.013,0.08,0.1,0.12];

// Kp index (3-hour bins)
const kp1 = [2,2,2,3,2,3,3,3,3,3,4,3,2,3,3,1,3,4,4,4,3,4,3,4];
const kp2 = [4,3,9,8,7,7,9,8,8,7,6,5,5,8,9,9,8,7,7,6,6,5,4,4];
const kpDates1 = ['Oct.26','Oct.27','Oct.28','Oct.29'];
const kpDates2 = ['Oct.29','Oct.30','Oct.31','Nov.1'];

// ---------------- HELPERS ----------------
const SERIF = '"Liberation Serif","Times New Roman",serif';
const C_NAVY='#1d1d95', C_OR='#f3a02a', C_RED='#e8302a', C_GRN='#1f8d32';
const TXT_BLUE='#3040b4', TXT_OR='#f2a93a', TXT_RED='#e8402f', TXT_GRN='#219a3c', TXT_YEL='#f4c22a';
const KP_G='#198a2c', KP_Y='#f7c51e', KP_R='#e8291d';
function seg(t0, step, vals){ return vals.map((v,i)=>[Math.round((t0+i*step)*1000)/1000, v]); }

const grids = [
  {left:113, top:58, width:490, height:379},
  {left:733, top:57, width:489, height:379},
  {left:113, top:501, width:490, height:379},
  {left:733, top:501, width:488, height:379},
  {left:113, top:951, width:490, height:377},
  {left:733, top:951, width:488, height:379}
].map(g=>Object.assign({show:true, borderColor:'#2a2a2a', borderWidth:1.2, backgroundColor:'transparent', outerBoundsMode:'none'}, g));

const xAxes=[], yAxes=[];
function supFmt(v){ const e=Math.round(Math.log10(v)); return '{b|10}{s|'+(e<0?'\u2212'+(-e):e)+'}'; }
const supRich = {b:{fontSize:23, fontFamily:SERIF, color:'#1a1a1a', lineHeight:25, verticalAlign:'bottom'}, s:{fontSize:15, fontFamily:SERIF, color:'#1a1a1a', lineHeight:15, verticalAlign:'top'}};
function fluxAxes(gi, ymin, ymax, nsplit){
  const xt = {type:'value', gridIndex:gi, min:0, max:72, interval:3, axisLine:{show:false}, axisTick:{show:true, inside:true, length:5, lineStyle:{color:'#333'}}, axisLabel:{show:false}, splitLine:{show:false}};
  xAxes.push(Object.assign({position:'bottom'}, xt));
  xAxes.push(Object.assign({position:'top'}, xt));
  const yt = {type:'log', logBase:10, gridIndex:gi, min:ymin, max:ymax, splitNumber:nsplit, axisLine:{show:false}, axisTick:{show:true, inside:true, length:8, lineStyle:{color:'#333'}}, splitLine:{show:false}};
  yAxes.push(Object.assign({position:'left', axisLabel:{formatter:supFmt, rich:supRich, margin:7}}, yt));
  yAxes.push(Object.assign({position:'right', axisLabel:{show:false}}, yt));
}
function kpAxes(gi, labels){
  xAxes.push({type:'value', gridIndex:gi, position:'bottom', min:0, max:72, interval:24, axisLine:{show:false}, axisTick:{show:false},
    axisLabel:{formatter:v=>labels[Math.round(v/24)], fontFamily:SERIF, fontSize:20, color:'#1a1a1a', margin:17},
    splitLine:{show:false}, name:'date', nameLocation:'middle', nameGap:57, nameTextStyle:{fontFamily:SERIF, fontSize:20, color:'#1a1a1a'}});
  xAxes.push({type:'value', gridIndex:gi, position:'top', min:0, max:72, interval:24, axisLine:{show:false}, axisTick:{show:false}, axisLabel:{show:false}, splitLine:{show:false}});
  const yt = {type:'value', gridIndex:gi, min:0, max:9, interval:1, axisLine:{show:false}, axisTick:{show:true, inside:true, length:6, lineStyle:{color:'#333'}}, splitLine:{show:false}};
  yAxes.push(Object.assign({position:'left', axisLabel:{fontFamily:SERIF, fontSize:21, color:'#1a1a1a', margin:10}}, yt));
  yAxes.push(Object.assign({position:'right', axisLabel:{show:false}}, yt));
}
fluxAxes(0,0.1,1e7,8); fluxAxes(1,0.1,1e7,8);
fluxAxes(2,0.01,1e4,6); fluxAxes(3,0.01,1e4,6);
kpAxes(4,kpDates1); kpAxes(5,kpDates2);

const series=[];
function gridLines(decades, dashedAt){
  return {silent:true, symbol:['none','none'], z:1, label:{show:false}, emphasis:{disabled:true},
    data: decades.map(v=>({yAxis:v, lineStyle:{color:'#333', width:1.1, type: v===dashedAt?[7,6]:'solid'}}))
      .concat([24,48].map(t=>({xAxis:t, lineStyle:{color:'#444', width:2.6, type:[2,5]}})))};
}
function line(gi, data, color, width, ml){
  const s = {type:'line', xAxisIndex:2*gi, yAxisIndex:2*gi, data, showSymbol:false, symbol:'none', animation:false,
    lineStyle:{color, width:width||1.3}, itemStyle:{color}, emphasis:{disabled:true}, z:2};
  if (ml) s.markLine = ml;
  series.push(s);
}
function minorTicks(gi, lo, hi){
  const d=[]; for(let n=lo;n<hi;n++){ for(let k=2;k<=9;k++){ d.push([0, k*Math.pow(10,n)]); } }
  series.push({type:'custom', xAxisIndex:2*gi, yAxisIndex:2*gi, data:d, silent:true, z:3, animation:false,
    renderItem:(params, api)=>{ const cs=params.coordSys; const y=api.coord([0, api.value(1)])[1];
      return {type:'group', children:[
        {type:'line', shape:{x1:cs.x, y1:y, x2:cs.x+4, y2:y}, style:{stroke:'#444', lineWidth:1}},
        {type:'line', shape:{x1:cs.x+cs.width-4, y1:y, x2:cs.x+cs.width, y2:y}, style:{stroke:'#444', lineWidth:1}}]}; }});
}
function markers(gi, times, letter, color){
  series.push({type:'scatter', xAxisIndex:2*gi, yAxisIndex:2*gi, data:times.map(t=>[t,4.8e6]), symbolSize:1,
    itemStyle:{color:'rgba(0,0,0,0)'}, silent:true, animation:false, z:4,
    label:{show:true, position:'inside', formatter:letter, color, fontFamily:'"Liberation Sans",Arial,sans-serif', fontSize:13}});
}

// Electron panels
line(0, e1_g10_06, C_NAVY, 1.3, gridLines([1,10,100,1e3,1e4,1e5,1e6],1e3));
line(0, e1_g12_06, C_OR, 1.3);
line(0, e1_g10_2, C_NAVY, 1.6);
line(0, e1_g12_2, C_RED, 1.3);
minorTicks(0,-1,7);
markers(0,e1_markM_red,'M',C_RED); markers(0,e1_markM_blue,'M',C_NAVY);
markers(0,e1_markN_red,'N',C_RED); markers(0,e1_markN_blue,'N',C_NAVY);

line(1, e2_g10_06, C_NAVY, 1.3, gridLines([1,10,100,1e3,1e4,1e5,1e6],1e3));
line(1, e2_g12_06, C_OR, 1.3);
line(1, e2_g10_2, C_NAVY, 1.6);
line(1, e2_g12_2, C_RED, 1.3);
minorTicks(1,-1,7);
markers(1,e2_markM_red,'M',C_RED); markers(1,e2_markM_blue,'M',C_NAVY);
markers(1,e2_markN_red,'N',C_RED); markers(1,e2_markN_blue,'N',C_NAVY);

// Proton panels
line(2, seg(0,0.25,p1_10_quiet).concat(p1_10_event), C_RED, 1.3, gridLines([0.1,1,10,100,1e3],10));
line(2, seg(0,0.25,p1_50_quiet).concat(p1_50_event), C_NAVY, 1.4);
line(2, seg(0,0.25,p1_100_quiet).concat(p1_100_event), C_GRN, 1.3);
minorTicks(2,-2,4);
line(3, p2_10, C_RED, 1.3, gridLines([0.1,1,10,100,1e3],10));
line(3, p2_50, C_NAVY, 1.4);
line(3, p2_100_main.concat(seg(60.2,0.2,p2_100_tail)), C_GRN, 1.3);
minorTicks(3,-2,4);

// Kp panels
function kpSeries(gi, vals){
  series.push({type:'bar', xAxisIndex:2*gi, yAxisIndex:2*gi, data:vals.map((v,i)=>[1.5+3*i, v]), barWidth:15, animation:false,
    itemStyle:{color:p=>p.value[1]<4?KP_G:(p.value[1]===4?KP_Y:KP_R)}, emphasis:{disabled:true}, z:2,
    markLine:{silent:true, symbol:['none','none'], z:1, label:{show:false}, data:[{xAxis:24},{xAxis:48}], lineStyle:{color:'#8a8a9a', width:1, type:[1,2]}}});
}
kpSeries(4, kp1); kpSeries(5, kp2);

// ---------------- TEXT ----------------
const R90 = Math.PI/2;
function T(x,y,text,o){
  o=o||{};
  const st = {text, fill:o.fill||'#1a1a1a', fontSize:o.size||20, fontFamily:SERIF, fontStyle:o.italic?'italic':'normal',
    textAlign:'center', textVerticalAlign:'middle', align:'center', verticalAlign:'middle'};
  if (o.rich) st.rich=o.rich;
  return {type:'text', x, y, rotation:o.rot||0, silent:true, z:10, style:st};
}
const richKp = (size,col)=>({i:{fontStyle:'italic', fontFamily:SERIF, fontSize:size, fill:col, color:col}, n:{fontFamily:SERIF, fontSize:size, fill:col, color:col}});
const richAx = {a:{fontFamily:SERIF, fontSize:25, fill:'#1a1a1a', color:'#1a1a1a', lineHeight:27, verticalAlign:'bottom'}, s:{fontFamily:SERIF, fontSize:16, fill:'#1a1a1a', color:'#1a1a1a', lineHeight:16, verticalAlign:'top'}};
const yname = '{a|particles/(cm}{s|\u22122}{a|\u00b7s}{s|\u22121}{a|\u00b7sr}{s|\u22121}{a|)}';
const graphics = [
  T(363,32,'GOES electron flux (5 min data) Begin: 00:00 UTC, Oct. 26, 2003',{size:21}),
  T(980,31,'GOES electron flux (5 min data) Begin: 00:00 UTC, Oct. 29, 2003',{size:21}),
  T(364,476,'GOES11 proton flux (5 min data) Begin: 00:00 UTC, Oct. 26, 2003',{size:21}),
  T(981,475,'GOES11 proton flux (5 min data) Begin: 00:00 UTC, Oct. 29, 2003',{size:21}),
  T(361,929,'{n|estimated planetary }{i|Kp}{n| index (180 min data) Begin: 00:00 UTC, Oct. 26, 2003}',{rich:richKp(18.5,'#1a1a1a'), size:18.5}),
  T(982,929,'{n|estimated planetary }{i|Kp}{n| index (180 min data) Begin: 00:00 UTC, Oct. 29, 2003}',{rich:richKp(18.5,'#1a1a1a'), size:18.5}),
  T(37,256,yname,{rot:R90, rich:richAx}),
  T(37,700,yname,{rot:R90, rich:richAx}),
  T(40,1130,'{i|Kp}{n| index}',{rot:R90, rich:richKp(24,'#1a1a1a')}),
];
// electron side labels
[[622,648],[1244,1270]].forEach(([c1,c2])=>{
  graphics.push(T(c1,163,'MeV',{rot:R90}), T(c1,207,'\u2265 0.6',{rot:R90, fill:TXT_BLUE}), T(c1,266,'\u2265 2',{rot:R90, fill:TXT_BLUE}), T(c1,388,'GOES 10',{rot:R90}));
  graphics.push(T(c2,163,'MeV',{rot:R90}), T(c2,207,'\u2265 0.6',{rot:R90, fill:TXT_OR}), T(c2,266,'\u2265 2',{rot:R90, fill:TXT_RED}), T(c2,388,'GOES 12',{rot:R90}));
});
// proton side labels
graphics.push(T(623,602,'MeV',{rot:R90}), T(623,650,'\u2265 10',{rot:R90, fill:TXT_RED}), T(623,710,'\u2265 50',{rot:R90, fill:TXT_BLUE}), T(623,772,'\u2265 100',{rot:R90, fill:TXT_GRN}));
graphics.push(T(1245,629,'MeV',{rot:R90}), T(1245,677,'\u2265 10',{rot:R90, fill:TXT_RED}), T(1245,766,'\u2265 50',{rot:R90, fill:TXT_BLUE}), T(1245,834,'\u2265 100',{rot:R90, fill:TXT_GRN}));
// Kp side labels
[[624,1050,1158,1250],[1245,1038,1145,1240]].forEach(([x,a,b,c])=>{
  graphics.push(T(x,a,'{i|Kp}{n| > 4}',{rot:R90, rich:richKp(20,TXT_RED)}));
  graphics.push(T(x,b,'{i|Kp}{n| = 4}',{rot:R90, rich:richKp(20,TXT_YEL)}));
  graphics.push(T(x,c,'{i|Kp}{n| < 4}',{rot:R90, rich:richKp(20,TXT_GRN)}));
});

const chart = echarts.init(document.getElementById('c'), null, {renderer:'canvas'});
chart.setOption({backgroundColor:'#f8f8fb', animation:false, grid:grids, xAxis:xAxes, yAxis:yAxes, series, graphic:graphics});
</script></body></html>
